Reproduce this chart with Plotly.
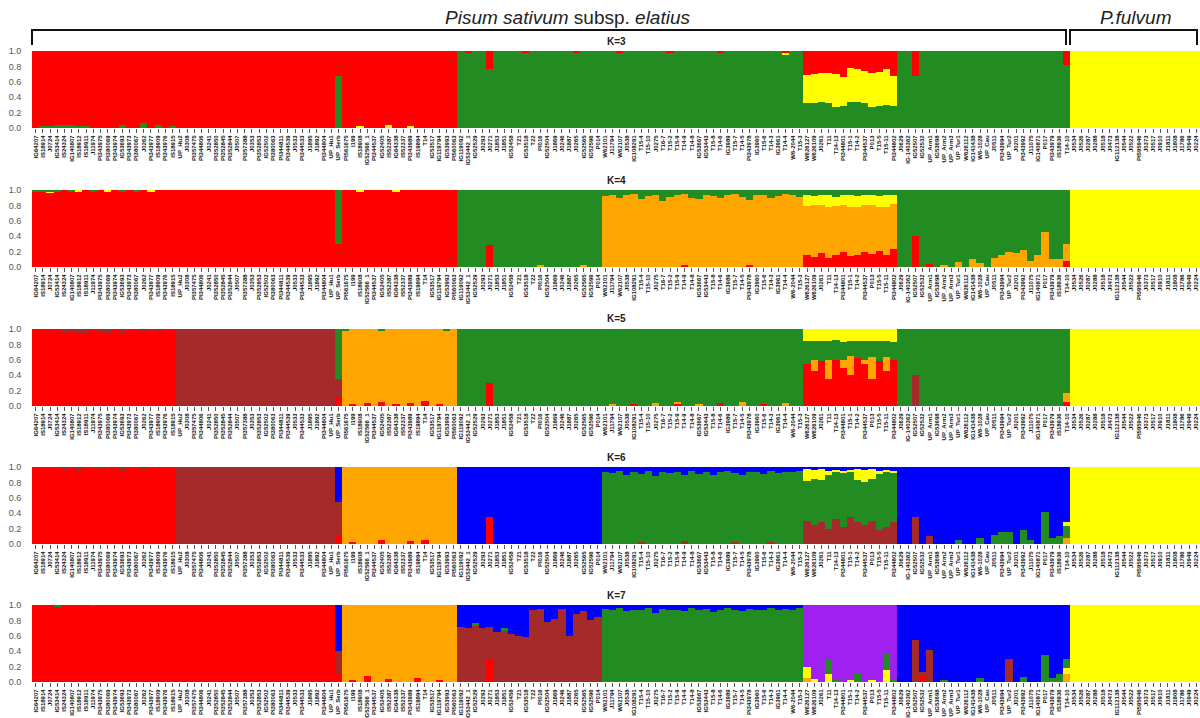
import plotly.graph_objects as go

labels = [
    "IG64207", "IS18914", "J0724", "IG53414", "IS24324", "IG140807", "IS18912", "IS18911", "J11974", "PI343975",
    "PI380069", "PI343974", "IG53693", "PI343973", "PI380067", "J0262", "PI343977", "IS18909", "PI343976", "IS18915",
    "UP_Hu2", "J0308", "PI357475", "PI344806", "J0241", "PI352850", "PI352845", "PI352844", "J0507", "PI357388",
    "J0353", "PI352853", "IG52502", "PI380063", "PI344811", "PI344539", "J0533", "PI344533", "J1895", "J1892",
    "PI344804", "UP_Hu1", "UP_Serb", "PI561675", "I199", "IS18908", "IG52566_1", "PI344537", "IG52405", "IS52387",
    "IG64338", "IS52337", "PI343989", "IS19894", "T14", "IG53517", "IG119794", "IG53993", "PI560063", "IG119092",
    "IG53442_1", "IG52529", "J0293", "J0271", "J1853", "J1851", "IG52458", "T21", "IG53518", "T22",
    "PI016", "IG52504", "J1869", "J0246", "J1887", "J0265", "IG52565", "IG52596", "P014", "W62101",
    "J11794", "W62107", "J0538", "IG108291", "T15-4", "T15-10", "J0275", "T16-7", "T15-2", "T15-9",
    "T14-9", "T14-8", "IG53667", "IG53443", "T15-8", "T14-6", "IG3989", "T15-7", "T14-5", "PI343978",
    "IG3960", "T15-6", "T14-3", "IG3961", "T14-4", "W6-2044", "T15-3", "W626127", "W626109", "J0261",
    "T11", "T14-13", "PI344801", "T15-1", "T14-2", "PI344537", "P013", "T15-5", "T15-11", "PI344802",
    "J0629", "IG-140362", "IG52507", "IG52532", "UP_Arm1", "IG53698", "UP_Arm2", "UP_Arm3", "UP_Tur1", "W626112",
    "IG141438", "W6-1028", "UP_Cau", "J0511", "PI343994", "UP_Tur2", "J0201", "PI343992", "J11075", "IG140871",
    "P017", "PI343979", "IS18936", "T14-10", "J0534", "J0526", "J0287", "J0288", "J0518", "J0473",
    "IG112138", "J0544", "J0522", "PI595946", "J0373", "J0517", "J0910", "J1811", "J1808", "J1786",
    "J0949", "J0224",
]

colors = {
    "red": "#FF0000", "green": "#228B22", "yellow": "#FFFF00", "orange": "#FFA500",
    "brown": "#A52A2A", "blue": "#0000FF", "purple": "#A020F0",
}

# ---------- K=3 ----------
K3_order = ["green", "yellow", "red"]
K3_runs = [("red", 59), ("green", 85), ("yellow", 18)]
K3_admix = {
    1: {"green": .03}, 2: {"green": .03}, 3: {"green": .04}, 4: {"green": .04}, 5: {"green": .04},
    6: {"green": .03}, 7: {"green": .02}, 12: {"green": .04}, 15: {"green": .06}, 17: {"green": .04},
    19: {"green": .02}, 42: {"green": .67}, 45: {"yellow": .03}, 49: {"yellow": .04}, 52: {"yellow": .02},
    60: {"red": .02}, 63: {"red": .24}, 68: {"red": .02}, 75: {"red": .02}, 81: {"red": .02},
    88: {"red": .02}, 95: {"red": .02}, 104: {"red": .03, "yellow": .02},
    107: {"red": .31, "yellow": .37}, 108: {"red": .30, "yellow": .37}, 109: {"red": .28, "yellow": .38},
    110: {"red": .28, "yellow": .40}, 111: {"red": .30, "yellow": .43}, 112: {"red": .34, "yellow": .38},
    113: {"red": .22, "yellow": .44}, 114: {"red": .23, "yellow": .43}, 115: {"red": .26, "yellow": .41},
    116: {"red": .29, "yellow": .44}, 117: {"red": .27, "yellow": .44}, 118: {"red": .24, "yellow": .46},
    119: {"red": .33, "yellow": .39}, 122: {"red": .33}, 143: {"red": .18},
}

# ---------- K=4 ----------
K4_order = ["red", "orange", "yellow", "green"]
K4_runs = [("red", 59), ("green", 20), ("orange", 28), ("orange", 13), ("green", 24), ("yellow", 18)]
K4_admix = {
    0: {"green": .02}, 1: {"green": .03}, 2: {"green": .02, "yellow": .01}, 3: {"green": .03},
    5: {"green": .02}, 6: {"yellow": .02}, 8: {"green": .02}, 10: {"yellow": .02}, 12: {"green": .02},
    14: {"green": .03}, 16: {"yellow": .02}, 42: {"green": .70}, 45: {"yellow": .02}, 50: {"yellow": .02},
    63: {"red": .28}, 70: {"orange": .02}, 76: {"orange": .03},
    79: {"green": .08}, 80: {"green": .06}, 81: {"green": .10}, 82: {"green": .07}, 83: {"green": .05},
    84: {"green": .12}, 85: {"green": .08}, 86: {"green": .06}, 87: {"green": .14}, 88: {"green": .09},
    89: {"green": .07}, 90: {"green": .05, "red": .02}, 91: {"green": .10}, 92: {"green": .12},
    93: {"green": .06}, 94: {"green": .08}, 95: {"green": .11}, 96: {"green": .07}, 97: {"green": .05},
    98: {"green": .09}, 99: {"green": .13, "red": .02}, 100: {"green": .07}, 101: {"green": .06},
    102: {"green": .10}, 103: {"green": .08}, 104: {"green": .05}, 105: {"green": .07}, 106: {"green": .09},
    107: {"red": .15, "yellow": .14, "green": .07}, 108: {"red": .13, "yellow": .12, "green": .08},
    109: {"red": .18, "yellow": .13, "green": .06}, 110: {"red": .12, "yellow": .15, "green": .07},
    111: {"red": .16, "yellow": .12, "green": .09}, 112: {"red": .20, "yellow": .13, "green": .07},
    113: {"red": .14, "yellow": .16, "green": .06}, 114: {"red": .15, "yellow": .14, "green": .08},
    115: {"red": .19, "yellow": .12, "green": .07}, 116: {"red": .17, "yellow": .13, "green": .06},
    117: {"red": .21, "yellow": .14, "green": .08}, 118: {"red": .16, "yellow": .15, "green": .07},
    119: {"red": .24, "yellow": .12, "green": .06},
    122: {"red": .40}, 124: {"red": .04}, 126: {"orange": .03}, 128: {"orange": .07}, 130: {"orange": .10},
    131: {"orange": .05}, 133: {"orange": .12}, 134: {"orange": .15}, 135: {"orange": .20}, 136: {"orange": .18},
    137: {"orange": .22}, 138: {"orange": .08}, 139: {"orange": .15}, 140: {"orange": .45}, 141: {"orange": .10},
    142: {"orange": .10}, 143: {"red": .08, "orange": .22},
}

# ---------- K=5 ----------
K5_order = ["red", "brown", "orange", "green", "yellow"]
K5_runs = [("red", 20), ("brown", 22), ("green", 1), ("orange", 16), ("green", 85), ("yellow", 18)]
K5_admix = {
    4: {"brown": .05}, 5: {"brown": .04}, 6: {"brown": .06}, 7: {"brown": .05}, 9: {"brown": .04},
    10: {"brown": .05}, 12: {"brown": .06}, 15: {"brown": .04}, 17: {"brown": .03},
    42: {"red": .10, "brown": .25},
    43: {"green": .03}, 44: {"red": .03}, 46: {"red": .04}, 48: {"red": .05, "green": .02}, 50: {"red": .03},
    52: {"red": .04}, 54: {"red": .06}, 56: {"red": .03}, 57: {"green": .02},
    63: {"red": .30}, 80: {"orange": .03}, 83: {"red": .03}, 86: {"orange": .04}, 89: {"red": .03, "orange": .02},
    92: {"orange": .03}, 95: {"red": .04}, 98: {"orange": .05}, 101: {"red": .03}, 104: {"orange": .04},
    107: {"red": .55, "yellow": .16}, 108: {"red": .45, "orange": .15, "yellow": .16},
    109: {"red": .58, "yellow": .15}, 110: {"red": .35, "orange": .25, "yellow": .16},
    111: {"red": .60, "yellow": .14}, 112: {"red": .50, "orange": .10, "yellow": .17},
    113: {"red": .40, "orange": .25, "yellow": .15}, 114: {"red": .62, "yellow": .16},
    115: {"red": .55, "orange": .05, "yellow": .15}, 116: {"red": .35, "orange": .28, "yellow": .16},
    117: {"red": .58, "yellow": .15}, 118: {"red": .45, "orange": .18, "yellow": .16},
    119: {"red": .60, "yellow": .17},
    122: {"brown": .40}, 143: {"orange": .12, "red": .05},
}

# ---------- K=6 ----------
K6_order = ["red", "brown", "orange", "green", "yellow", "blue"]
K6_runs = [("red", 20), ("brown", 22), ("brown", 1), ("orange", 16), ("blue", 20), ("green", 28),
           ("green", 13), ("blue", 24), ("yellow", 18)]
K6_admix = {
    4: {"brown": .04}, 6: {"brown": .05}, 9: {"brown": .04}, 12: {"brown": .05}, 15: {"brown": .03},
    42: {"red": .10, "blue": .45},
    44: {"red": .03}, 48: {"red": .05}, 52: {"red": .04}, 54: {"red": .05},
    63: {"red": .35},
    79: {"blue": .06}, 80: {"blue": .08}, 81: {"blue": .05}, 82: {"blue": .10}, 83: {"blue": .07},
    84: {"blue": .09, "brown": .03}, 85: {"blue": .05}, 86: {"blue": .12}, 87: {"blue": .06}, 88: {"blue": .08},
    89: {"blue": .07}, 90: {"blue": .10, "brown": .04}, 91: {"blue": .05}, 92: {"blue": .09}, 93: {"blue": .06},
    94: {"blue": .11}, 95: {"blue": .07}, 96: {"blue": .05}, 97: {"blue": .08, "brown": .03}, 98: {"blue": .10},
    99: {"blue": .06}, 100: {"blue": .07}, 101: {"blue": .09}, 102: {"blue": .05, "brown": .03},
    103: {"blue": .08}, 104: {"blue": .06}, 105: {"blue": .07}, 106: {"blue": .05},
    107: {"brown": .30, "yellow": .15, "blue": .03}, 108: {"brown": .25, "yellow": .12, "blue": .04},
    109: {"brown": .28, "yellow": .14, "blue": .03}, 110: {"brown": .20, "yellow": .05, "blue": .05},
    111: {"brown": .32, "yellow": .02, "blue": .04}, 112: {"brown": .22, "yellow": .03, "blue": .05},
    113: {"brown": .35, "yellow": .03, "blue": .04}, 114: {"brown": .28, "yellow": .14, "blue": .03},
    115: {"brown": .25, "yellow": .16, "blue": .04}, 116: {"brown": .30, "yellow": .13, "blue": .03},
    117: {"brown": .18, "yellow": .04, "blue": .05}, 118: {"brown": .22, "yellow": .03, "blue": .04},
    119: {"brown": .28, "yellow": .02, "blue": .05},
    122: {"brown": .35}, 124: {"brown": .10}, 128: {"green": .05}, 131: {"green": .08}, 133: {"green": .12},
    134: {"green": .15}, 135: {"green": .15}, 137: {"green": .18}, 138: {"green": .05}, 140: {"green": .42},
    141: {"green": .08}, 142: {"green": .10}, 143: {"green": .15, "orange": .08, "yellow": .05},
}

# ---------- K=7 ----------
K7_order = ["red", "brown", "orange", "yellow", "green", "purple", "blue"]
K7_runs = [("red", 42), ("blue", 1), ("orange", 16), ("brown", 20), ("green", 28), ("purple", 13),
           ("blue", 24), ("yellow", 18)]
K7_admix = {
    3: {"green": .02}, 8: {"green": .01},
    42: {"red": .10, "brown": .30},
    44: {"red": .03}, 46: {"red": .08}, 49: {"red": .04}, 53: {"red": .05}, 56: {"red": .03},
    59: {"blue": .28}, 60: {"blue": .30}, 61: {"blue": .24, "green": .03}, 62: {"blue": .30},
    63: {"red": .30, "blue": .28}, 64: {"blue": .35}, 65: {"blue": .30, "green": .04}, 66: {"blue": .38},
    67: {"blue": .40}, 68: {"blue": .42}, 69: {"blue": .07}, 70: {"blue": .05}, 71: {"blue": .22},
    72: {"blue": .18}, 73: {"blue": .05}, 74: {"blue": .40}, 75: {"blue": .12}, 76: {"blue": .08},
    77: {"blue": .20}, 78: {"blue": .15},
    79: {"blue": .05}, 80: {"blue": .06}, 81: {"blue": .04}, 82: {"blue": .08}, 83: {"blue": .06},
    84: {"blue": .07}, 85: {"blue": .04}, 86: {"blue": .10}, 87: {"blue": .05}, 88: {"blue": .07},
    89: {"blue": .06}, 90: {"blue": .08}, 91: {"blue": .04}, 92: {"blue": .07}, 93: {"blue": .05},
    94: {"blue": .09}, 95: {"blue": .06}, 96: {"blue": .04}, 97: {"blue": .07}, 98: {"blue": .08},
    99: {"blue": .05}, 100: {"blue": .06}, 101: {"blue": .07}, 102: {"blue": .04}, 103: {"blue": .06},
    104: {"blue": .05}, 105: {"blue": .06}, 106: {"blue": .04},
    107: {"orange": .05, "yellow": .15}, 108: {"yellow": .04}, 110: {"yellow": .10, "green": .20},
    111: {"green": .03}, 113: {"yellow": .03}, 114: {"green": .12}, 116: {"yellow": .02},
    118: {"yellow": .15, "green": .22}, 119: {"green": .03},
    122: {"brown": .55}, 123: {"red": .08, "brown": .05}, 124: {"brown": .42}, 126: {"green": .03},
    131: {"green": .05}, 135: {"brown": .30}, 137: {"green": .06}, 140: {"green": .35}, 141: {"green": .05},
    142: {"green": .10}, 143: {"orange": .10, "yellow": .08, "green": .12},
}

panels = [
    ("K=3", K3_order, K3_runs, K3_admix, 51, 128),
    ("K=4", K4_order, K4_runs, K4_admix, 190, 267),
    ("K=5", K5_order, K5_runs, K5_admix, 329, 406),
    ("K=6", K6_order, K6_runs, K6_admix, 467, 544),
    ("K=7", K7_order, K7_runs, K7_admix, 605, 682),
]

W, H = 1200, 718
N = len(labels)
idx = list(range(N))


def memberships(order, runs, admix):
    dominant = []
    for c, n in runs:
        dominant += [c] * n
    rows = []
    for i, d in enumerate(dominant):
        q = {c: 0.0 for c in order}
        extra = admix.get(i, {})
        for c, v in extra.items():
            q[c] = v
        q[d] = max(0.0, 1 - sum(v for c, v in extra.items() if c != d))
        rows.append(q)
    return rows


fig = go.Figure()
layout = {}
annotations = []
for p, (title, order, runs, admix, top, bot) in enumerate(panels, start=1):
    rows = memberships(order, runs, admix)
    xa = "x" if p == 1 else f"x{p}"
    ya = "y" if p == 1 else f"y{p}"
    for c in order:
        fig.add_trace(go.Bar(
            x=idx, y=[r[c] for r in rows], width=1.0,
            marker=dict(color=colors[c], line=dict(width=0)),
            xaxis=xa, yaxis=ya, showlegend=False, hoverinfo="skip",
        ))
    layout[f"xaxis{'' if p == 1 else p}"] = dict(
        domain=[0, 1], anchor=ya, range=[-0.5, N - 0.5],
        tickmode="array", tickvals=idx, ticktext=labels, tickangle=-90,
        tickfont=dict(family="Liberation Sans, Arial", size=6, color="#111", weight="bold"),
        ticks="outside", ticklen=4, tickwidth=1, tickcolor="#555",
        showgrid=False, zeroline=False, showline=False, automargin=False,
    )
    layout[f"yaxis{'' if p == 1 else p}"] = dict(
        domain=[1 - bot / H, 1 - top / H], anchor=xa, range=[0, 1],
        tickmode="array", tickvals=[0, 0.2, 0.4, 0.6, 0.8, 1.0],
        ticktext=["0.0", "0.2", "0.4", "0.6", "0.8", "1.0"],
        tickfont=dict(family="Liberation Sans, Arial", size=9, color="#555"),
        ticks="outside", ticklen=8, tickcolor="rgba(0,0,0,0)",
        showgrid=False, zeroline=False, showline=False, automargin=False,
    )
    annotations.append(dict(
        text=f"<b>{title}</b>", xref="paper", yref="paper", x=0.5, y=1 - (top - 10) / H,
        showarrow=False, xanchor="center", yanchor="middle",
        font=dict(family="Liberation Sans, Arial", size=10, color="#222"),
    ))

L = 32
def px(xp):
    return (xp - L) / (W - L)

def py(yp):
    return 1 - yp / H

annotations.append(dict(
    text="<i>Pisum sativum</i> subsp. <i>elatius</i>", xref="paper", yref="paper",
    x=px(568), y=py(18), showarrow=False, xanchor="center", yanchor="middle",
    font=dict(family="Liberation Sans, Arial", size=19, color="#222"),
))
annotations.append(dict(
    text="<i>P.fulvum</i>", xref="paper", yref="paper",
    x=px(1135), y=py(18), showarrow=False, xanchor="center", yanchor="middle",
    font=dict(family="Liberation Sans, Arial", size=19, color="#222"),
))

shapes = []
for x0, x1 in [(32, 1066), (1070, 1197)]:
    shapes.append(dict(
        type="path", xref="paper", yref="paper",
        path=f"M {px(x0)},{py(45)} L {px(x0)},{py(30)} L {px(x1)},{py(30)} L {px(x1)},{py(45)}",
        line=dict(color="#111", width=2),
    ))

fig.update_layout(
    width=W, height=H, margin=dict(l=L, r=0, t=0, b=0),
    paper_bgcolor="white", plot_bgcolor="white",
    barmode="stack", bargap=0, showlegend=False,
    annotations=annotations, shapes=shapes, **layout,
)

fig.write_html(
    "out.html",
    config={"displayModeBar": False},
    post_script="document.body.style.margin='0';document.body.style.overflow='hidden';",
)
